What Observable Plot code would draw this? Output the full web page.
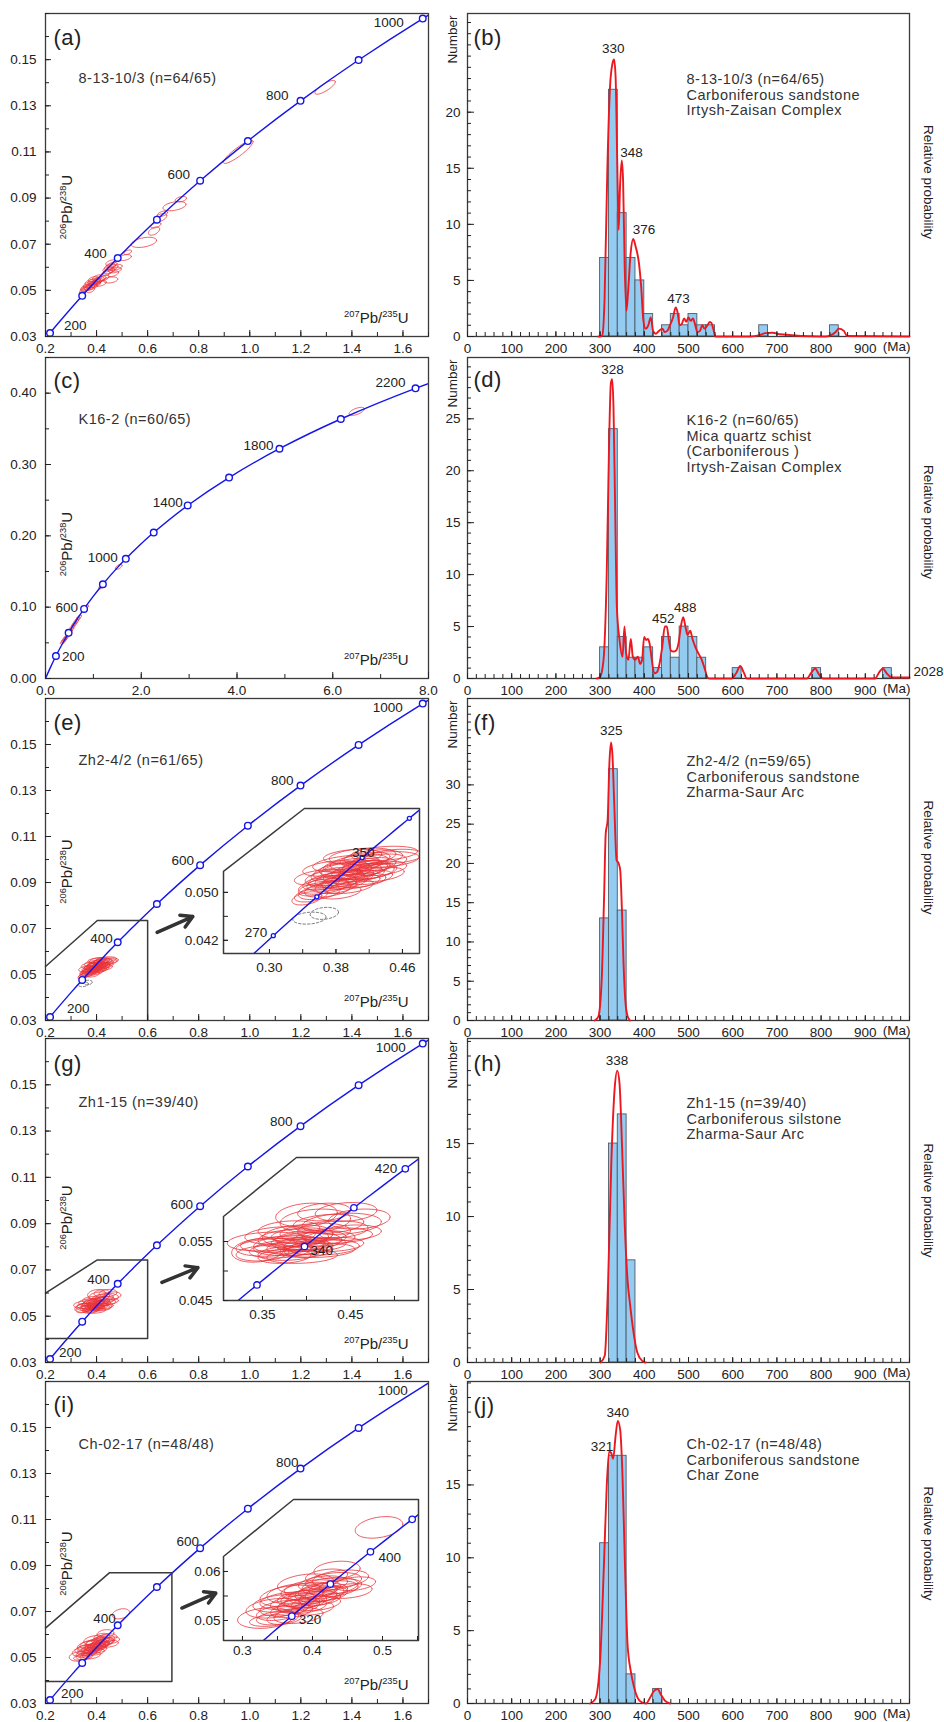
<!DOCTYPE html>
<html><head><meta charset="utf-8">
<script src="https://cdn.jsdelivr.net/npm/d3@7"></script>
<script src="https://cdn.jsdelivr.net/npm/@observablehq/plot@0.6"></script>
<style>
body{margin:0;background:#fff;}
#chart{position:relative;width:944px;height:1722px;overflow:hidden;background:#fff;}
</style></head><body><div id="chart"></div>
<script>
// ================= DATA =================
// Concordia reference points (age in Ma, 207Pb/235U, 206Pb/238U)
const concAges  = [0,100,200,270,300,310,320,340,350,360,380,390,400,420,440,500,600,700,800,900,1000,1100,1200,1400,1600,1800,2000,2200,2400];
const concX207  = [0,0.10350,0.21771,0.30462,0.34375,0.35703,0.37047,0.39773,0.41156,0.42553,0.45389,0.46828,0.48281,0.51231,0.54239,0.63628,0.80563,0.99251,1.19873,1.42630,1.67741,1.95452,2.26030,2.97009,3.83441,4.88690,6.16853,7.72916,9.62957];
const concY206  = [0,0.015633,0.031511,0.042773,0.047637,0.049264,0.050893,0.054158,0.055795,0.057434,0.060720,0.062367,0.064016,0.067321,0.070638,0.080650,0.097544,0.114702,0.132131,0.149826,0.167802,0.186052,0.204587,0.242565,0.281718,0.322107,0.363771,0.406751,0.451078];

const markerAgesMain = [200,300,400,500,600,700,800,900,1000];
const markerAgesMainI = [200,300,400,500,600,700,800,900];
const markerAgesC = [200,400,600,800,1000,1200,1400,1600,1800,2000,2200];
const markerAgesInsetE = [270,310,350,390];
const markerAgesInsetG = [300,340,380,420];
const markerAgesInsetI = [320,360,400,440];

// Error ellipses: [207/235, 206/238, half-width x, half-width y, rho]
const ellA = [
[0.345,0.0496,0.012,0.0010,0.5],[0.352,0.0505,0.016,0.0011,0.5],[0.360,0.0507,0.018,0.0012,0.5],
[0.366,0.0517,0.018,0.0012,0.5],[0.372,0.0512,0.020,0.0013,0.5],[0.376,0.0501,0.016,0.0011,0.5],
[0.380,0.0521,0.022,0.0013,0.5],[0.384,0.0531,0.018,0.0012,0.5],[0.387,0.0548,0.020,0.0012,0.5],
[0.391,0.0540,0.025,0.0014,0.5],[0.395,0.0525,0.020,0.0013,0.5],[0.399,0.0535,0.020,0.0012,0.5],
[0.402,0.0555,0.018,0.0012,0.5],[0.408,0.0545,0.022,0.0013,0.5],[0.418,0.0530,0.020,0.0012,0.5],
[0.428,0.0553,0.020,0.0012,0.5],[0.455,0.0545,0.028,0.0013,0.3],[0.442,0.0578,0.020,0.0012,0.5],
[0.445,0.0592,0.020,0.0012,0.5],[0.452,0.0602,0.022,0.0013,0.5],[0.460,0.0610,0.020,0.0012,0.5],
[0.456,0.0620,0.020,0.0012,0.5],[0.466,0.0572,0.020,0.0012,0.5],[0.472,0.0588,0.025,0.0012,0.4],
[0.480,0.0600,0.020,0.0012,0.5],[0.510,0.0642,0.026,0.0013,0.4],[0.522,0.0665,0.015,0.0010,0.5],
[0.585,0.0708,0.050,0.0022,0.4],[0.625,0.0757,0.022,0.0018,0.5],[0.632,0.0782,0.020,0.0012,0.5],
[0.650,0.0815,0.025,0.0018,0.5],[0.658,0.0832,0.020,0.0012,0.5],[0.705,0.0865,0.045,0.0020,0.4],
[0.730,0.0895,0.022,0.0012,0.4],[0.955,0.1100,0.058,0.0050,0.9],[1.295,0.1380,0.040,0.0030,0.8],
[0.358,0.0512,0.020,0.0012,0.5],[0.370,0.0525,0.022,0.0013,0.5],[0.382,0.0515,0.020,0.0012,0.5],
[0.392,0.0530,0.022,0.0013,0.5],[0.405,0.0540,0.020,0.0012,0.5],[0.375,0.0535,0.020,0.0012,0.5],
[0.415,0.0550,0.022,0.0012,0.5],[0.450,0.0585,0.022,0.0013,0.5],[0.462,0.0598,0.022,0.0013,0.5]
];
const ellC = [
[0.36,0.051,0.05,0.0028,0.6],[0.38,0.053,0.05,0.0028,0.6],[0.40,0.055,0.05,0.0030,0.6],
[0.42,0.057,0.05,0.0028,0.6],[0.45,0.059,0.05,0.0028,0.6],[0.48,0.063,0.05,0.0030,0.6],
[0.51,0.066,0.05,0.0028,0.6],[0.54,0.069,0.05,0.0028,0.6],[0.56,0.072,0.05,0.0030,0.6],
[0.59,0.075,0.05,0.0028,0.6],[0.61,0.077,0.05,0.0028,0.6],[0.64,0.080,0.05,0.0030,0.6],
[0.67,0.083,0.05,0.0028,0.6],[0.70,0.086,0.05,0.0030,0.6],[0.84,0.100,0.06,0.0030,0.6],
[1.17,0.1287,0.06,0.0030,0.6],[1.53,0.1565,0.07,0.0035,0.6],[6.50,0.3745,0.16,0.0056,0.6]
];
const ellE = [
[0.350,0.0495,0.020,0.0011,0.4],[0.355,0.0505,0.020,0.0011,0.4],[0.360,0.0500,0.025,0.0012,0.4],
[0.362,0.0515,0.022,0.0011,0.4],[0.370,0.0505,0.028,0.0013,0.4],[0.372,0.0520,0.025,0.0012,0.4],
[0.375,0.0515,0.030,0.0013,0.4],[0.380,0.0510,0.025,0.0012,0.4],[0.380,0.0530,0.030,0.0012,0.4],
[0.385,0.0522,0.030,0.0014,0.4],[0.385,0.0500,0.025,0.0011,0.4],[0.390,0.0518,0.028,0.0012,0.4],
[0.390,0.0540,0.030,0.0012,0.4],[0.395,0.0528,0.030,0.0013,0.4],[0.395,0.0510,0.030,0.0012,0.4],
[0.400,0.0525,0.025,0.0012,0.4],[0.400,0.0545,0.035,0.0012,0.4],[0.400,0.0560,0.035,0.0012,0.3],
[0.405,0.0535,0.030,0.0013,0.4],[0.410,0.0530,0.028,0.0012,0.4],[0.410,0.0520,0.030,0.0012,0.4],
[0.415,0.0540,0.030,0.0013,0.4],[0.415,0.0555,0.030,0.0012,0.4],[0.420,0.0545,0.032,0.0013,0.4],
[0.420,0.0525,0.028,0.0012,0.4],[0.425,0.0535,0.025,0.0012,0.4],[0.430,0.0550,0.035,0.0014,0.4],
[0.435,0.0540,0.030,0.0012,0.4],[0.440,0.0555,0.040,0.0013,0.3],[0.450,0.0560,0.035,0.0012,0.3],
[0.345,0.0490,0.018,0.0011,0.4],[0.365,0.0510,0.030,0.0013,0.4],[0.378,0.0525,0.035,0.0014,0.4],
[0.388,0.0535,0.035,0.0015,0.4],[0.392,0.0548,0.040,0.0014,0.4],[0.398,0.0518,0.035,0.0013,0.4],
[0.402,0.0538,0.040,0.0015,0.4],[0.408,0.0550,0.035,0.0013,0.4],[0.412,0.0560,0.040,0.0014,0.3],
[0.418,0.0535,0.035,0.0014,0.4],[0.425,0.0558,0.035,0.0013,0.3],[0.432,0.0530,0.030,0.0012,0.4],
[0.438,0.0565,0.040,0.0012,0.3],[0.375,0.0540,0.035,0.0013,0.4],[0.360,0.0525,0.030,0.0013,0.4]
];
const ellEdiscordant = [[0.348,0.0457,0.020,0.0010,0.2],[0.366,0.0465,0.017,0.0010,0.2]];
const ellG = [
[0.345,0.0535,0.030,0.0020,0.2],[0.350,0.0530,0.030,0.0013,0.2],[0.360,0.0540,0.040,0.0015,0.2],
[0.370,0.0535,0.035,0.0013,0.2],[0.370,0.0560,0.040,0.0015,0.2],[0.375,0.0525,0.030,0.0012,0.2],
[0.380,0.0545,0.040,0.0015,0.2],[0.380,0.0530,0.035,0.0012,0.2],[0.385,0.0555,0.040,0.0016,0.2],
[0.390,0.0540,0.035,0.0013,0.2],[0.395,0.0525,0.040,0.0012,0.2],[0.395,0.0560,0.035,0.0013,0.2],
[0.400,0.0550,0.040,0.0015,0.2],[0.400,0.0535,0.030,0.0012,0.2],[0.400,0.0595,0.035,0.0020,0.2],
[0.410,0.0545,0.035,0.0012,0.2],[0.410,0.0565,0.040,0.0016,0.2],[0.420,0.0555,0.035,0.0013,0.2],
[0.420,0.0540,0.040,0.0013,0.2],[0.420,0.0600,0.030,0.0015,0.2],[0.430,0.0570,0.040,0.0015,0.2],
[0.440,0.0580,0.045,0.0018,0.2],[0.450,0.0565,0.035,0.0013,0.2],[0.460,0.0588,0.035,0.0017,0.2],
[0.355,0.0550,0.045,0.0016,0.2],[0.365,0.0545,0.040,0.0013,0.2],[0.385,0.0540,0.045,0.0014,0.2],
[0.390,0.0560,0.040,0.0018,0.2],[0.405,0.0555,0.040,0.0014,0.2],[0.415,0.0535,0.040,0.0012,0.2],
[0.425,0.0580,0.040,0.0016,0.2],[0.435,0.0560,0.040,0.0013,0.2],[0.410,0.0585,0.040,0.0020,0.2],
[0.380,0.0570,0.035,0.0015,0.2],[0.395,0.0545,0.030,0.0012,0.2],[0.430,0.0545,0.035,0.0012,0.2],
[0.445,0.0600,0.035,0.0016,0.2]
];
const ellI = [
[0.333,0.0505,0.040,0.0021,0.2],[0.340,0.0500,0.030,0.0012,0.3],[0.350,0.0515,0.030,0.0015,0.3],
[0.360,0.0505,0.025,0.0013,0.3],[0.360,0.0525,0.035,0.0016,0.3],[0.370,0.0520,0.030,0.0014,0.3],
[0.370,0.0550,0.045,0.0022,0.3],[0.375,0.0535,0.035,0.0016,0.3],[0.380,0.0530,0.030,0.0014,0.3],
[0.385,0.0545,0.035,0.0016,0.3],[0.390,0.0540,0.030,0.0015,0.3],[0.395,0.0560,0.040,0.0018,0.3],
[0.400,0.0550,0.035,0.0016,0.3],[0.405,0.0535,0.035,0.0015,0.3],[0.410,0.0545,0.030,0.0014,0.3],
[0.415,0.0560,0.035,0.0016,0.3],[0.420,0.0555,0.030,0.0015,0.3],[0.420,0.0590,0.030,0.0015,0.3],
[0.430,0.0565,0.035,0.0016,0.3],[0.430,0.0580,0.040,0.0018,0.3],[0.435,0.0603,0.033,0.0018,0.2],
[0.440,0.0570,0.030,0.0015,0.3],[0.450,0.0560,0.035,0.0015,0.3],[0.460,0.0575,0.030,0.0014,0.3],
[0.495,0.0690,0.034,0.0022,0.3],
[0.345,0.0525,0.040,0.0020,0.3],[0.355,0.0535,0.040,0.0018,0.3],[0.365,0.0540,0.040,0.0018,0.3],
[0.375,0.0555,0.040,0.0020,0.3],[0.385,0.0530,0.035,0.0016,0.3],[0.395,0.0545,0.040,0.0018,0.3],
[0.400,0.0565,0.040,0.0018,0.3],[0.410,0.0555,0.035,0.0017,0.3],[0.415,0.0575,0.035,0.0016,0.3],
[0.425,0.0570,0.040,0.0018,0.3],[0.380,0.0510,0.035,0.0016,0.3],[0.400,0.0525,0.030,0.0014,0.3],
[0.440,0.0585,0.040,0.0018,0.3],[0.390,0.0575,0.040,0.0020,0.3],[0.350,0.0505,0.030,0.0014,0.3]
];

// Zoom boxes (main-panel data units) and arrows [x1,y1,x2,y2]
const boxE = [[0.2,0.0535],[0.403,0.0735],[0.6,0.0735],[0.6,0.03]];
const boxG = [[0.2,0.060],[0.403,0.0743],[0.6,0.0743],[0.6,0.0404],[0.2,0.0404]];
const boxI = [[0.2,0.0628],[0.45,0.0868],[0.695,0.0868],[0.695,0.0396],[0.2,0.0396]];
const arrowE = [0.637,0.0683,0.777,0.0752];
const arrowG = [0.656,0.0646,0.797,0.0710];
const arrowI = [0.734,0.0715,0.867,0.0780];

// Histograms: bin starts (20 Ma bins) and counts
const binsB = [300,320,340,360,380,400,420,440,460,480,500,520,540,660,820];
const countsB = [7,22,11,7,5,2,0,1,2,1,2,1,1,1,1];
const binsD = [300,320,340,360,380,400,420,440,460,480,500,520,600,780,940];
const countsD = [3,24,4,2,2,3,1,4,2,5,4,2,1,1,1];
const binsF = [300,320,340];
const countsF = [13,32,14];
const binsH = [320,340,360];
const countsH = [15,17,7];
const binsJ = [300,320,340,360,420];
const countsJ = [11,17,17,2,1];

// Relative probability curves (age Ma, height on count axis)
const curveAgesB = [296,300,305,310,316.5,322.5,327.8,331.6,335,339,342,345,349,352,355.7,359.5,363,369,375,380.5,388,393,398,403,409,414.5,420,426,433,441,446,452,458,465,471,475,480,484.5,490,495,499.6,505,510,514.7,520,526,531,536.5,542.6,548.6,552,556,561,640,659,674,690,708,800,810,821,833,840,851.5,859,1000];
const curveValsB = [0,0,0.1,3.2,15.1,22.3,24.3,24.7,23.2,15.1,9.5,13.3,15.7,13.9,6.2,2.3,3.8,7.4,8.7,8.0,6.5,4.4,1.4,0.7,1.0,1.7,0.5,0.25,0.5,0.7,0.4,0.5,1.0,1.7,2.6,2.2,1.0,1.1,1.6,1.3,1.7,1.4,1.6,1.1,0.4,0.5,1.0,0.7,1.0,1.3,1.2,0.7,0,0,0.1,0.3,0.33,0.2,0,0,0.1,0.4,0.7,0.5,0.05,0,0];
const curveAgesD = [292.6,300,307.7,315,320.5,324.3,327.3,330.3,334,337.9,344,350.7,355.2,359,364,369.5,374,379.3,385.4,390.6,395,399.7,404,408,411.8,417,422.3,428.3,434.4,440.4,446.5,451,455.5,460,466,472,477.4,482.7,488,493,497.7,503.8,509,515.8,522.6,530,537.7,543,549,598,607.8,617,624.4,632,767.7,779,786.6,794,804,922,932,939.7,948.7,960,1000];
const curveValsD = [0,0.16,1.76,10.1,22.9,28.4,28.8,26.1,16.5,6.9,3.7,2.1,5.0,2.4,1.8,3.8,2.1,1.8,2.1,1.4,1.8,4.0,3.7,3.8,3.4,1.8,0.5,0.6,1.4,3.0,5.0,5.0,3.7,2.7,2.6,2.7,3.4,5.0,5.9,5.0,4.2,4.6,3.8,3.0,2.4,1.8,0.8,0.1,0,0,0.5,1.2,0.64,0,0,0.64,0.96,0.48,0,0,0.64,0.96,0.48,0.1,0.1];
const curveAgesF = [288,296,303.6,309,312.7,317,321,324.7,327.8,332,337.3,342,345.6,349.4,353,357,361.5,367.5];
const curveValsF = [0,0.5,5.2,15.7,23.8,25.5,32.7,35.4,33.9,27.6,20.4,20,19.1,14.0,7.3,2.6,0.7,0];
const curveAgesH = [301,310.5,318,325.5,333,339,344,350,355.7,361.7,367.7,375,384,395.6,403];
const curveValsH = [0,0.46,5.4,13.8,18.8,20.0,19.1,14.5,9.5,5.8,4.0,2.2,0.7,0.1,0];
const curveAgesJ = [277.5,289,300,309,315,320.5,325,329.6,334.8,340,345.4,350.7,356,362,369.5,377,384.6,394.4,404,413,422,430,437,446.5,458.5];
const curveValsJ = [0,0.3,2.9,9.8,14.9,17.3,17.2,16.8,18.3,19.4,18.8,15.6,9.8,4.1,2.2,1.1,0.4,0.07,0,0.4,0.87,1.0,0.64,0.2,0];

// Peak labels (age, curve height)
const peakAgesB = [330,348,376,473], peakValsB = [24.7,15.7,8.7,2.6];
const peakAgesD = [328,452,488], peakValsD = [28.8,5.0,5.9];
const peakAgesF = [325], peakValsF = [35.4];
const peakAgesH = [338], peakValsH = [20.0];
const peakAgesJ = [340,321], peakValsJ = [19.4,17.3];

// Tick labels
const ratioTicksX = [0.2,0.4,0.6,0.8,1.0,1.2,1.4,1.6];
const ratioTicksY = [0.03,0.05,0.07,0.09,0.11,0.13,0.15];
const cTicksX = [0,2,4,6,8];
const cTicksY = [0,0.1,0.2,0.3,0.4];
const ageTicks = [0,100,200,300,400,500,600,700,800,900];

// ================= DRAWING =================
const RED_E = "#e8343a", BLUE = "#1515e8", RED_C = "#ec1820", BAR_FILL = "#93cbf1", BAR_EDGE = "#505b66", INK = "#222", FRAME = "#3a3a3a";
const FONT = "'Liberation Sans', Arial, Helvetica, sans-serif";
const chart = document.getElementById("chart");
const descSet = new Set();
const rnd = v => Math.round(v * 1e6) / 1e6;
const rangeR = (a, b, s) => d3.range(a, b + s / 2, s).map(rnd);

const conc = concAges.map((t, i) => ({t, x: concX207[i], y: concY206[i]}));
const at = ages => conc.filter(d => ages.includes(d.t));

function ellipsePts(list, tag) {
  const pts = [];
  list.forEach(([cx, cy, sx, sy, r], i) => {
    const k = Math.sqrt(1 - r * r);
    for (let j = 0; j <= 64; j++) {
      const a = 2 * Math.PI * j / 64;
      pts.push({id: tag + i, x: cx + sx * Math.cos(a), y: cy + sy * (r * Math.cos(a) + k * Math.sin(a))});
    }
  });
  return pts;
}

function style() { return {fontFamily: FONT, fontSize: "13.5px", color: INK, background: "transparent", overflow: "visible"}; }

function supify(svg) {
  svg.querySelectorAll("text").forEach(t => {
    const s = t.textContent;
    if (!s.includes("^")) return;
    const fs = 15;
    while (t.firstChild) t.removeChild(t.firstChild);
    let pending = 0;
    s.split("^").forEach((p, i) => {
      if (!p) return;
      const ts = document.createElementNS("http://www.w3.org/2000/svg", "tspan");
      ts.textContent = p;
      if (i % 2 === 1) { ts.setAttribute("font-size", (fs * 0.62).toFixed(1)); ts.setAttribute("dy", (-fs * 0.42).toFixed(1)); pending = fs * 0.42; }
      else if (pending) { ts.setAttribute("dy", pending.toFixed(1)); pending = 0; }
      t.appendChild(ts);
    });
  });
}

function mount(svg, left, top) {
  svg.style.position = "absolute";
  svg.style.left = left + "px";
  svg.style.top = top + "px";
  chart.appendChild(svg);
  supify(svg);
}

function txt(s, opts) { return Plot.text([s], {text: d => d, fill: INK, ...opts}); }

function concordiaPanel(o) {
  const marks = [Plot.line(ellipsePts(o.ell, "e"), {x: "x", y: "y", z: "id", stroke: RED_E, strokeWidth: 0.8, clip: true})];
  if (o.grey) marks.push(Plot.line(ellipsePts(o.grey, "g"), {x: "x", y: "y", z: "id", stroke: "#555", strokeWidth: 0.8, strokeDasharray: "2.5,2", clip: true}));
  marks.push(
    Plot.line(conc.filter(d => d.t <= o.lineMax), {x: "x", y: "y", curve: "catmull-rom", stroke: BLUE, strokeWidth: 1.4, clip: true}),
    Plot.dot(at(o.markers), {x: "x", y: "y", r: 3.3, stroke: BLUE, strokeWidth: 1.4, fill: "white"}),
    ...o.labels.map(([age, anchor, dx, dy]) => Plot.text(at([age]), {x: "x", y: "y", text: d => String(d.t), textAnchor: anchor, lineAnchor: "middle", dx, dy, fontSize: 13.5, fill: INK}))
  );
  if (o.box) marks.push(Plot.line(o.box, {x: d => d[0], y: d => d[1], stroke: FRAME, strokeWidth: 1.5}));
  if (o.arrow) marks.push(Plot.arrow([o.arrow], {x1: d => d[0], y1: d => d[1], x2: d => d[2], y2: d => d[3], stroke: "#333", strokeWidth: 3.5, headLength: 12}));
  descSet.add(o.letter); descSet.add(o.sample);
  marks.push(
    Plot.frame({stroke: FRAME, strokeWidth: 1.3}),
    Plot.axisX({ticks: o.xMinor, anchor: "bottom", tickSize: -4, tickFormat: () => "", label: null}),
    Plot.axisX({ticks: o.xTicks, anchor: "bottom", tickSize: -6, tickPadding: 12.5, tickFormat: o.xFmt, label: null, fontSize: 13.5}),
    Plot.axisY({ticks: o.yMinor, anchor: "left", tickSize: -4, tickFormat: () => "", label: null}),
    Plot.axisY({ticks: o.yTicks, anchor: "left", tickSize: -6, tickPadding: 15, tickFormat: o.yFmt, label: null, fontSize: 13.5}),
    txt(o.letter, {frameAnchor: "top-left", textAnchor: "start", lineAnchor: "middle", dx: 8, dy: o.letterDy, fontSize: 22}),
    txt(o.sample, {frameAnchor: "top-left", textAnchor: "start", lineAnchor: "middle", dx: 33, dy: o.sampleDy, fontSize: 14.5, fill: "#333"}),
    txt("^206^Pb/^238^U", {frameAnchor: "left", textAnchor: "middle", lineAnchor: "middle", rotate: -90, dx: 22, dy: o.yTitleDy, fontSize: 15}),
    txt("^207^Pb/^235^U", {frameAnchor: "bottom-right", textAnchor: "end", lineAnchor: "middle", dx: -20, dy: -18, fontSize: 15})
  );
  const svg = Plot.plot({
    width: 460, height: o.bottom - o.top + 35,
    marginLeft: 45, marginRight: 32, marginTop: 13, marginBottom: 22,
    x: {domain: o.xd, label: null}, y: {domain: o.yd, label: null},
    style: style(), marks
  });
  mount(svg, 0, o.top - 13);
}

function insetPanel(o) {
  const mL = 50, mR = 10, mT = 10, mB = 30;
  const [x0, x1] = o.xd, [y0, y1] = o.yd;
  const outline = [[x0, o.chamfer[0]], [o.chamfer[1], y1], [x1, y1], [x1, y0], [x0, y0], [x0, o.chamfer[0]]];
  const marks = [Plot.line(ellipsePts(o.ell, "e"), {x: "x", y: "y", z: "id", stroke: RED_E, strokeWidth: 0.8, clip: true})];
  if (o.grey) marks.push(Plot.line(ellipsePts(o.grey, "g"), {x: "x", y: "y", z: "id", stroke: "#555", strokeWidth: 0.8, strokeDasharray: "2.5,2", clip: true}));
  marks.push(
    Plot.line(conc.filter(d => d.t >= 100 && d.t <= 600), {x: "x", y: "y", curve: "catmull-rom", stroke: BLUE, strokeWidth: 1.4, clip: true}),
    Plot.dot(at(o.markers), {x: "x", y: "y", r: o.r, stroke: BLUE, strokeWidth: 1.3, fill: "white"}),
    ...o.labels.map(([age, anchor, dx, dy]) => Plot.text(at([age]), {x: "x", y: "y", text: d => String(d.t), textAnchor: anchor, lineAnchor: "middle", dx, dy, fontSize: 13.5, fill: INK})),
    Plot.line(outline, {x: d => d[0], y: d => d[1], stroke: FRAME, strokeWidth: 1.5}),
    Plot.axisX({ticks: o.xTicks, anchor: "bottom", tickSize: -4, tickFormat: () => "", label: null}),
    Plot.axisX({ticks: o.xLabels, anchor: "bottom", tickSize: -4, tickPadding: o.xPad, tickFormat: o.xFmt, label: null, fontSize: 13.5}),
    Plot.axisY({ticks: o.yTicks, anchor: "left", tickSize: -5, tickFormat: () => "", label: null}),
    Plot.axisY({ticks: o.yLabels, anchor: "left", tickSize: -5, tickPadding: o.yPad, tickFormat: o.yFmt, label: null, fontSize: 13.5})
  );
  const svg = Plot.plot({
    width: o.right - o.left + mL + mR, height: o.bottom - o.top + mT + mB,
    marginLeft: mL, marginRight: mR, marginTop: mT, marginBottom: mB,
    x: {domain: o.xd, label: null}, y: {domain: o.yd, label: null},
    style: style(), marks
  });
  mount(svg, o.left - mL, o.top - mT);
}

function histPanel(o) {
  const bins = o.bins.map((a, i) => ({a, n: o.counts[i]})).filter(d => d.n > 0);
  const curve = o.curveAges.map((a, i) => ({a, v: o.curveVals[i]}));
  const peaks = o.peakAges.map((a, i) => ({a, v: o.peakVals[i]}));
  o.desc.forEach(s => descSet.add(s)); descSet.add(o.letter);
  const marks = [
    Plot.rect(bins, {x1: "a", x2: d => d.a + 20, y1: () => 0, y2: "n", fill: BAR_FILL, stroke: BAR_EDGE, strokeWidth: 0.9}),
    Plot.frame({stroke: FRAME, strokeWidth: 1.3}),
    Plot.line(curve, {x: "a", y: "v", curve: "monotone-x", stroke: RED_C, strokeWidth: 1.9}),
    ...o.peakStyle.map(([anchor, dx, dy], i) => Plot.text([peaks[i]], {x: "a", y: "v", text: d => String(d.a), textAnchor: anchor, lineAnchor: "middle", dx, dy, fontSize: 13.5, fill: INK})),
    Plot.axisX({ticks: rangeR(0, 1000, 20), anchor: "bottom", tickSize: -4, tickFormat: () => "", label: null}),
    Plot.axisX({ticks: ageTicks, anchor: "bottom", tickSize: -5, tickPadding: 11.5, tickFormat: d3.format("d"), label: null, fontSize: 13.5}),
    Plot.axisY({ticks: rangeR(0, o.yMinorMax, 1), anchor: "left", tickSize: -4, tickFormat: () => "", label: null}),
    Plot.axisY({ticks: o.yTicks, anchor: "left", tickSize: -7, tickPadding: 14, tickFormat: d3.format("d"), label: null, fontSize: 13.5}),
    txt("(Ma)", {frameAnchor: "bottom-right", textAnchor: "end", lineAnchor: "middle", dx: 1, dy: 10, fontSize: 13.5}),
    txt(o.letter, {frameAnchor: "top-left", textAnchor: "start", lineAnchor: "middle", dx: 6, dy: o.letterDy, fontSize: 22}),
    txt(o.desc.join("\n"), {frameAnchor: "top-left", textAnchor: "start", lineAnchor: "top", dx: 219, dy: o.descDy - 5, fontSize: 14.5, lineHeight: 1.06, fill: "#333"}),
    txt("Number", {frameAnchor: "top-left", textAnchor: "end", lineAnchor: "middle", rotate: -90, dx: -15, dy: 2, fontSize: 13.5}),
    txt("Relative probability", {frameAnchor: "right", textAnchor: "middle", lineAnchor: "middle", rotate: 90, dx: 19, dy: o.rpDy, fontSize: 13.5})
  ];
  if (o.extra) marks.push(txt(o.extra, {frameAnchor: "bottom-right", textAnchor: "start", lineAnchor: "middle", dx: 4, dy: -7, fontSize: 13.5}));
  const svg = Plot.plot({
    width: 504, height: o.bottom - o.top + 35,
    marginLeft: 27, marginRight: 35, marginTop: 13, marginBottom: 22,
    x: {domain: [0, 1000], label: null}, y: {domain: o.yd, label: null},
    style: style(), marks
  });
  mount(svg, 440, o.top - 13);
}

const fx1 = d3.format(".1f"), fy2 = d3.format(".2f");
const mainRatio = {xd: [0.2, 1.7], yd: [0.03, 0.17], xTicks: ratioTicksX, xMinor: rangeR(0.2, 1.7, 0.1), yTicks: ratioTicksY, yMinor: rangeR(0.03, 0.17, 0.01), xFmt: fx1, yFmt: fy2, lineMax: 1100};

concordiaPanel({...mainRatio, top: 13, bottom: 336, ell: ellA, markers: markerAgesMain, letter: "(a)", sample: "8-13-10/3 (n=64/65)",
  labels: [[200, "start", 14, -7], [400, "end", -11, -4], [600, "end", -10, -6], [800, "end", -12, -5], [1000, "end", -19, 4]],
  yTitleDy: 32, letterDy: 24, sampleDy: 65});
concordiaPanel({top: 357, bottom: 678, xd: [0, 8], yd: [0, 0.45], xTicks: cTicksX, xMinor: rangeR(0, 8, 1), yTicks: cTicksY, yMinor: rangeR(0, 0.45, 0.05), xFmt: fx1, yFmt: fy2, lineMax: 2400,
  ell: ellC, markers: markerAgesC, letter: "(c)", sample: "K16-2 (n=60/65)",
  labels: [[200, "start", 6, 1], [600, "end", -6, -1], [1000, "end", -8, -1], [1400, "end", -5, -3], [1800, "end", -6, -3], [2200, "end", -10, -6]],
  yTitleDy: 26, letterDy: 23, sampleDy: 62});
concordiaPanel({...mainRatio, top: 698, bottom: 1020, ell: ellE, grey: ellEdiscordant, markers: markerAgesMain, letter: "(e)", sample: "Zh2-4/2 (n=61/65)",
  labels: [[200, "start", 17, -8], [400, "end", -5, -4], [600, "end", -6, -4], [800, "end", -7, -5], [1000, "end", -20, 4]],
  box: boxE, arrow: arrowE, yTitleDy: 12, letterDy: 24, sampleDy: 62});
concordiaPanel({...mainRatio, top: 1038, bottom: 1362, ell: ellG, markers: markerAgesMain, letter: "(g)", sample: "Zh1-15 (n=39/40)",
  labels: [[200, "start", 9, -6], [400, "end", -8, -4], [600, "end", -7, -2], [800, "end", -8, -4], [1000, "end", -17, 4]],
  box: boxG, arrow: arrowG, yTitleDy: 17, letterDy: 25, sampleDy: 64});
concordiaPanel({...mainRatio, top: 1381, bottom: 1703, ell: ellI, markers: markerAgesMainI, letter: "(i)", sample: "Ch-02-17 (n=48/48)",
  labels: [[200, "start", 11, -6], [400, "end", -2, -7], [600, "end", -1, -6], [800, "end", -2, -6], [1000, "end", -15, 4]],
  box: boxI, arrow: arrowI, yTitleDy: 21, letterDy: 23, sampleDy: 63});

insetPanel({left: 223, right: 419, top: 808, bottom: 953, xd: [0.2447, 0.4805], yd: [0.0398, 0.064], chamfer: [0.0535, 0.342],
  ell: ellE, grey: ellEdiscordant, markers: markerAgesInsetE, r: 2, labels: [[270, "end", -6, -3], [350, "middle", 1, -5]],
  xTicks: [0.30, 0.34, 0.38, 0.42, 0.46], xLabels: [0.30, 0.38, 0.46], xFmt: d3.format(".2f"), xPad: 13.4,
  yTicks: [0.042, 0.046, 0.050], yLabels: [0.042, 0.050], yFmt: d3.format(".3f"), yPad: 10});
insetPanel({left: 223, right: 418, top: 1157, bottom: 1300, xd: [0.3057, 0.5273], yd: [0.045, 0.06924], chamfer: [0.05924, 0.3886],
  ell: ellG, markers: markerAgesInsetG, r: 3.2, labels: [[420, "end", -8, 0], [340, "start", 6, 4]],
  xTicks: [0.35, 0.40, 0.45, 0.50], xLabels: [0.35, 0.45], xFmt: d3.format(".2f"), xPad: 13.4,
  yTicks: [0.045, 0.050, 0.055], yLabels: [0.045, 0.055], yFmt: d3.format(".3f"), yPad: 16});
insetPanel({left: 223, right: 418, top: 1499, bottom: 1640, xd: [0.2729, 0.5514], yd: [0.04592, 0.07469], chamfer: [0.06306, 0.3729],
  ell: ellI, markers: markerAgesInsetI, r: 3.2, labels: [[400, "start", 8, 6], [320, "start", 7, 4]],
  xTicks: [0.30, 0.35, 0.40, 0.45, 0.50, 0.55], xLabels: [0.3, 0.4, 0.5], xFmt: d3.format(".1f"), xPad: 9.4,
  yTicks: [0.05, 0.055, 0.06], yLabels: [0.05, 0.06], yFmt: d3.format(".2f"), yPad: 8});

histPanel({top: 13, bottom: 336, yd: [0, 28.8], yTicks: [0, 5, 10, 15, 20], yMinorMax: 28, bins: binsB, counts: countsB,
  curveAges: curveAgesB, curveVals: curveValsB, peakAges: peakAgesB, peakVals: peakValsB,
  peakStyle: [["middle", 0, -11], ["start", -1, -8], ["start", -1, -9], ["middle", 2, -9]],
  letter: "(b)", letterDy: 24, desc: ["8-13-10/3 (n=64/65)", "Carboniferous sandstone", "Irtysh-Zaisan Complex"], descDy: 65, rpDy: 7});
histPanel({top: 357, bottom: 678, yd: [0, 30.9], yTicks: [0, 5, 10, 15, 20, 25], yMinorMax: 30, bins: binsD, counts: countsD,
  curveAges: curveAgesD, curveVals: curveValsD, peakAges: peakAgesD, peakVals: peakValsD,
  peakStyle: [["middle", 0, -10], ["middle", -4, -8], ["middle", 2, -10]],
  letter: "(d)", letterDy: 22, desc: ["K16-2 (n=60/65)", "Mica quartz schist", "(Carboniferous )", "Irtysh-Zaisan Complex"], descDy: 62, rpDy: 4, extra: "2028"});
histPanel({top: 698, bottom: 1020, yd: [0, 41], yTicks: [0, 5, 10, 15, 20, 25, 30], yMinorMax: 41, bins: binsF, counts: countsF,
  curveAges: curveAgesF, curveVals: curveValsF, peakAges: peakAgesF, peakVals: peakValsF,
  peakStyle: [["middle", 0, -12]],
  letter: "(f)", letterDy: 24, desc: ["Zh2-4/2 (n=59/65)", "Carboniferous sandstone", "Zharma-Saur Arc"], descDy: 62, rpDy: -2});
histPanel({top: 1038, bottom: 1362, yd: [0, 22.2], yTicks: [0, 5, 10, 15], yMinorMax: 22, bins: binsH, counts: countsH,
  curveAges: curveAgesH, curveVals: curveValsH, peakAges: peakAgesH, peakVals: peakValsH,
  peakStyle: [["middle", 0, -10]],
  letter: "(h)", letterDy: 25, desc: ["Zh1-15 (n=39/40)", "Carboniferous silstone", "Zharma-Saur Arc"], descDy: 64, rpDy: 0});
histPanel({top: 1381, bottom: 1703, yd: [0, 22.1], yTicks: [0, 5, 10, 15], yMinorMax: 22, bins: binsJ, counts: countsJ,
  curveAges: curveAgesJ, curveVals: curveValsJ, peakAges: peakAgesJ, peakVals: peakValsJ,
  peakStyle: [["middle", 0, -8], ["end", 4, -5]],
  letter: "(j)", letterDy: 24, desc: ["Ch-02-17 (n=48/48)", "Carboniferous sandstone", "Char Zone"], descDy: 62, rpDy: 1});

chart.querySelectorAll("text, tspan").forEach(el => { if (descSet.has(el.textContent)) el.style.letterSpacing = "0.5px"; });
</script></body></html>
